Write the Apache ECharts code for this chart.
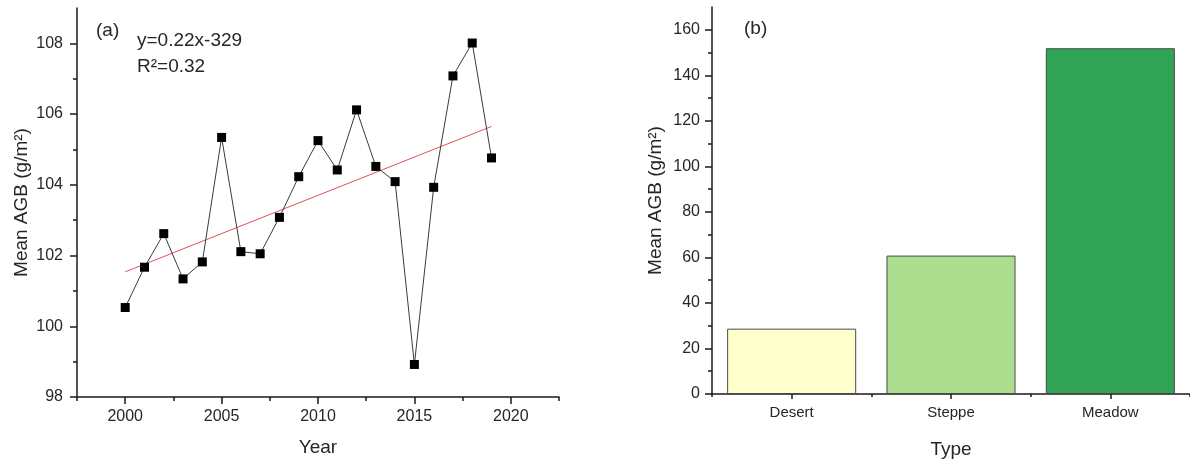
<!DOCTYPE html>
<html>
<head>
<meta charset="utf-8">
<title>Mean AGB</title>
<script src="https://cdn.jsdelivr.net/npm/echarts@6/dist/echarts.min.js"></script>
<style>
  html, body { margin: 0; padding: 0; background: #fff; }
  #chart { width: 1190px; height: 465px; }
</style>
</head>
<body>
<div id="chart"></div>
<script>
// Panel (a): annual mean AGB
const years = [2000, 2001, 2002, 2003, 2004, 2005, 2006, 2007, 2008, 2009,
               2010, 2011, 2012, 2013, 2014, 2015, 2016, 2017, 2018, 2019];
const agbByYear = [100.53, 101.67, 102.62, 101.34, 101.82, 105.34, 102.11, 102.05, 103.08, 104.23,
                   105.25, 104.42, 106.12, 104.52, 104.09, 98.92, 103.93, 107.08, 108.01, 104.76];
const yearTicks = [2000, 2005, 2010, 2015, 2020];
const yearMinorTicks = [1997.5, 2002.5, 2007.5, 2012.5, 2017.5, 2022.5];
const agbTicksA = [98, 100, 102, 104, 106, 108];
const agbMinorTicksA = [99, 101, 103, 105, 107];

// Panel (b): mean AGB by grassland type
const types = ['Desert', 'Steppe', 'Meadow'];
const agbByType = [28.7, 60.8, 151.9];
const agbTicksB = [0, 20, 40, 60, 80, 100, 120, 140, 160];
const agbMinorTicksB = [10, 30, 50, 70, 90, 110, 130, 150];

const typeColors = ['#ffffcc', '#addd8e', '#31a354'];

// least-squares trend over the annual series
const n = years.length;
const mx = years.reduce((a, b) => a + b, 0) / n;
const my = agbByYear.reduce((a, b) => a + b, 0) / n;
let sxy = 0, sxx = 0;
for (let i = 0; i < n; i++) {
  sxy += (years[i] - mx) * (agbByYear[i] - my);
  sxx += (years[i] - mx) * (years[i] - mx);
}
const slope = sxy / sxx;
const intercept = my - slope * mx;
const trend = [years[0], years[n - 1]].map(x => [x, slope * x + intercept]);

const FONT = '"Liberation Sans", Arial, sans-serif';
const AX = '#1a1a1a';
const TXT = '#262626';
const plain = v => String(v);

function axisLine() { return { show: true, lineStyle: { color: AX, width: 1.5 } }; }

const chart = echarts.init(document.getElementById('chart'), null, { renderer: 'canvas' });
chart.setOption({
  animation: false,
  backgroundColor: '#fff',
  textStyle: { fontFamily: FONT },
  grid: [
    { left: 77, top: 8, width: 482, height: 389 },
    { left: 712, top: 7, width: 478, height: 387 }
  ],
  xAxis: [
    {
      type: 'value', gridIndex: 0, position: 'bottom',
      min: 1997.5, max: 2022.5,
      name: 'Year', nameLocation: 'middle', nameGap: 41,
      nameTextStyle: { fontSize: 19, color: TXT, fontFamily: FONT },
      axisLine: axisLine(),
      axisTick: { show: true, length: 7, lineStyle: { color: AX, width: 1.5 }, customValues: yearTicks },
      axisLabel: { fontSize: 16, color: TXT, margin: 12, fontFamily: FONT, customValues: yearTicks, formatter: plain },
      splitLine: { show: false }
    },
    {
      type: 'value', gridIndex: 0, position: 'bottom',
      min: 1997.5, max: 2022.5,
      axisLine: { show: false },
      axisTick: { show: true, length: 4, lineStyle: { color: AX, width: 1.5 }, customValues: yearMinorTicks },
      axisLabel: { show: false },
      splitLine: { show: false }
    },
    {
      type: 'category', gridIndex: 1, position: 'bottom',
      data: types,
      name: 'Type', nameLocation: 'middle', nameGap: 46,
      nameTextStyle: { fontSize: 19, color: TXT, fontFamily: FONT },
      axisLine: axisLine(),
      axisTick: { show: true, alignWithLabel: true, length: 5, lineStyle: { color: AX, width: 1.5 } },
      axisLabel: { fontSize: 15, color: TXT, margin: 11, fontFamily: FONT },
      splitLine: { show: false }
    },
    {
      type: 'category', gridIndex: 1, position: 'bottom',
      data: types,
      axisLine: { show: false },
      axisTick: { show: true, alignWithLabel: false, interval: 0, length: 3, lineStyle: { color: AX, width: 1.5 } },
      axisLabel: { show: false },
      splitLine: { show: false }
    }
  ],
  yAxis: [
    {
      type: 'value', gridIndex: 0, position: 'left',
      min: 98, max: 109,
      name: 'Mean AGB (g/m²)', nameLocation: 'middle', nameGap: 46,
      nameTextStyle: { fontSize: 19, color: TXT, fontFamily: FONT },
      axisLine: axisLine(),
      axisTick: { show: true, length: 7, lineStyle: { color: AX, width: 1.5 }, customValues: agbTicksA },
      axisLabel: { fontSize: 16, color: TXT, margin: 14, fontFamily: FONT, customValues: agbTicksA, formatter: plain },
      splitLine: { show: false }
    },
    {
      type: 'value', gridIndex: 0, position: 'left',
      min: 98, max: 109,
      axisLine: { show: false },
      axisTick: { show: true, length: 4, lineStyle: { color: AX, width: 1.5 }, customValues: agbMinorTicksA },
      axisLabel: { show: false },
      splitLine: { show: false }
    },
    {
      type: 'value', gridIndex: 1, position: 'left',
      min: 0, max: 170,
      name: 'Mean AGB (g/m²)', nameLocation: 'middle', nameGap: 47,
      nameTextStyle: { fontSize: 19, color: TXT, fontFamily: FONT },
      axisLine: axisLine(),
      axisTick: { show: true, length: 7, lineStyle: { color: AX, width: 1.5 }, customValues: agbTicksB },
      axisLabel: { fontSize: 16, color: TXT, margin: 12, fontFamily: FONT, customValues: agbTicksB, formatter: plain },
      splitLine: { show: false }
    },
    {
      type: 'value', gridIndex: 1, position: 'left',
      min: 0, max: 170,
      axisLine: { show: false },
      axisTick: { show: true, length: 4, lineStyle: { color: AX, width: 1.5 }, customValues: agbMinorTicksB },
      axisLabel: { show: false },
      splitLine: { show: false }
    }
  ],
  series: [
    {
      name: 'trend', type: 'line', xAxisIndex: 0, yAxisIndex: 0,
      data: trend, showSymbol: false, symbol: 'none', z: 1,
      lineStyle: { color: '#e2505c', width: 1 }
    },
    {
      name: 'Mean AGB', type: 'line', xAxisIndex: 0, yAxisIndex: 0,
      data: years.map((y, i) => [y, agbByYear[i]]),
      symbol: 'rect', symbolSize: 9, z: 3,
      itemStyle: { color: '#000' },
      lineStyle: { color: '#3a3a3a', width: 1 }
    },
    {
      name: 'Mean AGB by type', type: 'bar', xAxisIndex: 2, yAxisIndex: 2,
      barCategoryGap: '19%',
      data: agbByType.map((v, i) => ({ value: v, itemStyle: { color: typeColors[i] } })),
      itemStyle: { borderColor: '#4a4a4a', borderWidth: 1 }
    }
  ],
  graphic: [
    { type: 'text', left: 96, top: 21, style: { text: '(a)', fontSize: 19, fill: TXT, fontFamily: FONT } },
    { type: 'text', left: 137, top: 31, style: { text: 'y=0.22x-329', fontSize: 19, fill: TXT, fontFamily: FONT } },
    { type: 'text', left: 137, top: 57, style: { text: 'R²=0.32', fontSize: 19, fill: TXT, fontFamily: FONT } },
    { type: 'text', left: 744, top: 19, style: { text: '(b)', fontSize: 19, fill: TXT, fontFamily: FONT } }
  ]
});
</script>
</body>
</html>
